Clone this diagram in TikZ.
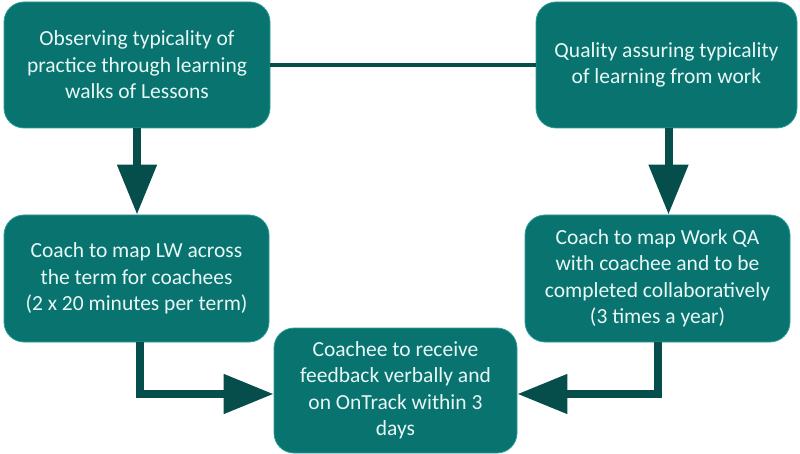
\documentclass[tikz,border=0pt]{standalone}
\usepackage{fontspec}
\setmainfont{Carlito}
\usepackage{xcolor}
\usetikzlibrary{arrows.meta}

\definecolor{boxteal}{HTML}{08736F}
\definecolor{boxedge}{HTML}{2E9E98}
\definecolor{flowdark}{HTML}{064E4B}
\definecolor{boxtext}{HTML}{E8F8F6}

\begin{document}
\begin{tikzpicture}[x=1pt, y=-1pt,
    every node/.style={rectangle, rounded corners=20pt, draw=boxedge, line width=0.8pt, fill=boxteal, text=boxtext, align=center, inner sep=4pt, font=\fontsize{21.5}{26.5}\selectfont},
    flow/.style={draw=flowdark, line width=8pt, -{Triangle[width=38pt, length=50pt]}},
    link/.style={draw=flowdark, line width=4pt}]
    \useasboundingbox (0,0) rectangle (800,454);
    \node[minimum width=266pt, minimum height=126pt] (observe) at (137,65) {Observing typicality of\\practice through learning\\walks of Lessons};
    \node[minimum width=261pt, minimum height=126pt] (quality) at (666.5,65) {Quality assuring typicality\\of learning from work};
    \node[minimum width=265pt, minimum height=127pt] (mapLW) at (136.5,278.5) {Coach to map LW across\\the term for coachees\\(2 x 20 minutes per term)};
    \node[minimum width=265pt, minimum height=127pt] (mapQA) at (657.5,278.5) {Coach to map Work QA\\with coachee and to be\\completed collaboratively\\(3 times a year)};
    \node[minimum width=243pt, minimum height=125pt] (feedback) at (395.5,390.5) {Coachee to receive\\feedback verbally and\\on OnTrack within 3\\days};
    \draw[link] (observe.east) -- (quality.west);
    \draw[flow] (observe.south) -- (observe.south |- mapLW.north);
    \draw[flow] ([xshift=2pt]quality.south) -- ([xshift=2pt]quality.south |- mapQA.north);
    \draw[flow] ([xshift=3pt]mapLW.south) |- ([yshift=-3.5pt]feedback.west);
    \draw[flow] (mapQA.south) |- ([yshift=-3.5pt]feedback.east);
  \end{tikzpicture}
\end{document}
